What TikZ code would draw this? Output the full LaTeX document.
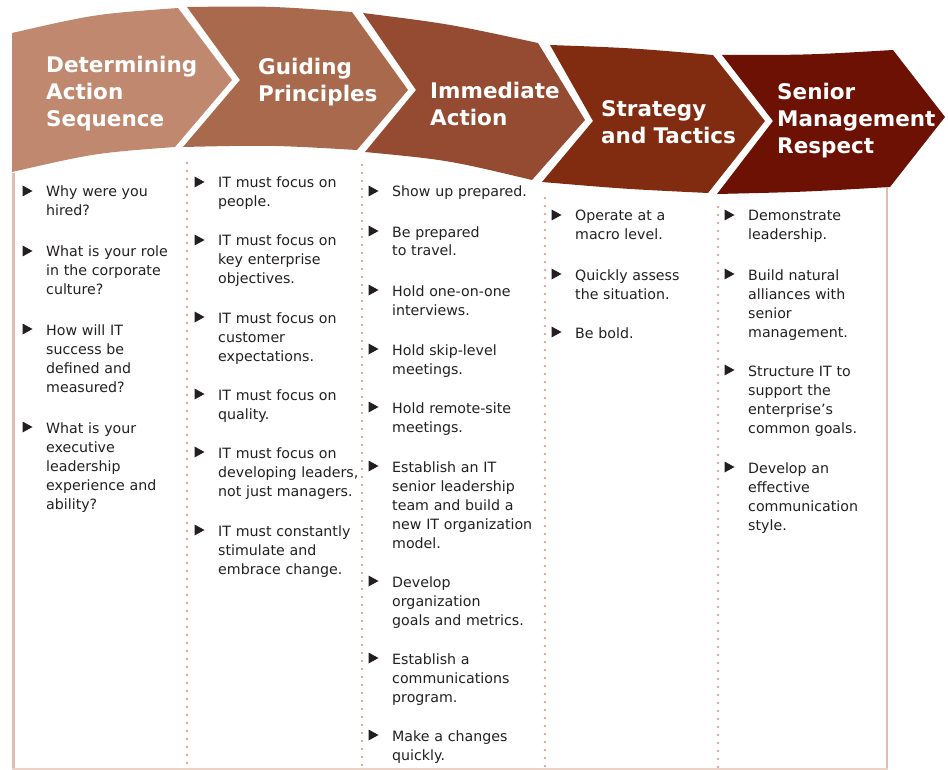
\documentclass[tikz,border=0pt]{standalone}
\usepackage{fontspec}
\setmainfont{DejaVu Sans}
\definecolor{cA}{HTML}{C0896F}
\definecolor{cB}{HTML}{A9694D}
\definecolor{cC}{HTML}{954B31}
\definecolor{cD}{HTML}{812C11}
\definecolor{cE}{HTML}{6D1104}
\definecolor{bordc}{HTML}{E2BDAE}
\definecolor{dotc}{HTML}{E2A692}
\definecolor{txt}{HTML}{231F20}
\begin{document}
\begin{tikzpicture}[x=1pt,y=-1pt,
  hdr/.style={anchor=base west, text=white, font=\fontsize{21.5}{27}\selectfont\bfseries, text width=220pt, align=left, inner sep=0pt},
  itm/.style={anchor=base west, text=txt, font=\fontsize{14.2}{19}\selectfont, text width=170pt, align=left, inner sep=0pt},
  sepline/.style={draw=dotc, line width=2.6pt, dash pattern=on 0pt off 8pt, line cap=round},
  borderline/.style={draw=bordc, line width=2.5pt}]
\useasboundingbox (0,0) rectangle (948,770);
\newcommand\bul[1]{\fill[txt] ([xshift=-23.5pt,yshift=0.5pt]#1.base west) -- ++(0,-11) -- ++(10,5.5) -- cycle;}
% chevrons
\fill[cA] (12,33) .. controls (95,14) .. (178,8) -- (232,80) -- (175,147) .. controls (95,153) .. (12,172) -- cycle;
\fill[cB] (187,7) .. controls (270,6) .. (352,12) -- (408,90) -- (357,150) .. controls (270,145) .. (183,147) -- (240,80) -- cycle;
\fill[cC] (363,13) .. controls (450,24) .. (538,43) -- (585,120) -- (532,180) .. controls (448,160) .. (365,152) -- (416,90) -- cycle;
\fill[cD] (550,45) .. controls (632,48) .. (713,55) -- (765,121) -- (708,193) .. controls (625,189) .. (542,182) -- (593,121) -- cycle;
\fill[cE] (722,55) .. controls (808,55) .. (893,50) -- (945,117) -- (890,187) .. controls (803,192) .. (717,194) -- (773,121) -- cycle;
% borders and separators
\draw[borderline] (13.5,173) -- (13.5,770);
\draw[borderline] (887,187) -- (887,770);
\draw[draw=bordc!70, line width=2pt] (12,769) -- (888,769);
\draw[sepline] (187,163) -- (187,770);
\draw[sepline] (362,165) -- (362,770);
\draw[sepline] (545,198) -- (545,770);
\draw[sepline] (718,207) -- (718,770);
% headers
\node[hdr] (h1) at (46,73) {Determining\\Action\\Sequence};
\node[hdr] (h2) at (258,75) {Guiding\\Principles};
\node[hdr] (h3) at (430,99) {Immediate\\Action};
\node[hdr] (h4) at (601,117) {Strategy\\and Tactics};
\node[hdr] (h5) at (777,100) {Senior\\Management\\Respect};
% column 1
\node[itm] (a1) at (46,197) {Why were you\\hired?}; \bul{a1}
\node[itm] (a2) at (46,257) {What is your role\\in the corporate\\culture?}; \bul{a2}
\node[itm] (a3) at (46,335) {How will IT\\success be\\defined and\\measured?}; \bul{a3}
\node[itm] (a4) at (46,433) {What is your\\executive\\leadership\\experience and\\ability?}; \bul{a4}
% column 2
\node[itm] (b1) at (218,188) {IT must focus on\\people.}; \bul{b1}
\node[itm] (b2) at (218,246) {IT must focus on\\key enterprise\\objectives.}; \bul{b2}
\node[itm] (b3) at (218,323) {IT must focus on\\customer\\expectations.}; \bul{b3}
\node[itm] (b4) at (218,400) {IT must focus on\\quality.}; \bul{b4}
\node[itm] (b5) at (218,458) {IT must focus on\\developing leaders,\\not just managers.}; \bul{b5}
\node[itm] (b6) at (218,536) {IT must constantly\\stimulate and\\embrace change.}; \bul{b6}
% column 3
\node[itm] (c1) at (392,197) {Show up prepared.}; \bul{c1}
\node[itm] (c2) at (392,237) {Be prepared\\to travel.}; \bul{c2}
\node[itm] (c3) at (392,296) {Hold one-on-one\\interviews.}; \bul{c3}
\node[itm] (c4) at (392,355) {Hold skip-level\\meetings.}; \bul{c4}
\node[itm] (c5) at (392,413) {Hold remote-site\\meetings.}; \bul{c5}
\node[itm] (c6) at (392,472) {Establish an IT\\senior leadership\\team and build a\\new IT organization\\model.}; \bul{c6}
\node[itm] (c7) at (392,587) {Develop\\organization\\goals and metrics.}; \bul{c7}
\node[itm] (c8) at (392,664) {Establish a\\communications\\program.}; \bul{c8}
\node[itm] (c9) at (392,741) {Make a changes\\quickly.}; \bul{c9}
% column 4
\node[itm] (d1) at (575,221) {Operate at a\\macro level.}; \bul{d1}
\node[itm] (d2) at (575,280) {Quickly assess\\the situation.}; \bul{d2}
\node[itm] (d3) at (575,338) {Be bold.}; \bul{d3}
% column 5
\node[itm] (e1) at (748,221) {Demonstrate\\leadership.}; \bul{e1}
\node[itm] (e2) at (748,280) {Build natural\\alliances with\\senior\\management.}; \bul{e2}
\node[itm] (e3) at (748,376) {Structure IT to\\support the\\enterprise’s\\common goals.}; \bul{e3}
\node[itm] (e4) at (748,473) {Develop an\\effective\\communication\\style.}; \bul{e4}
\end{tikzpicture}
\end{document}
